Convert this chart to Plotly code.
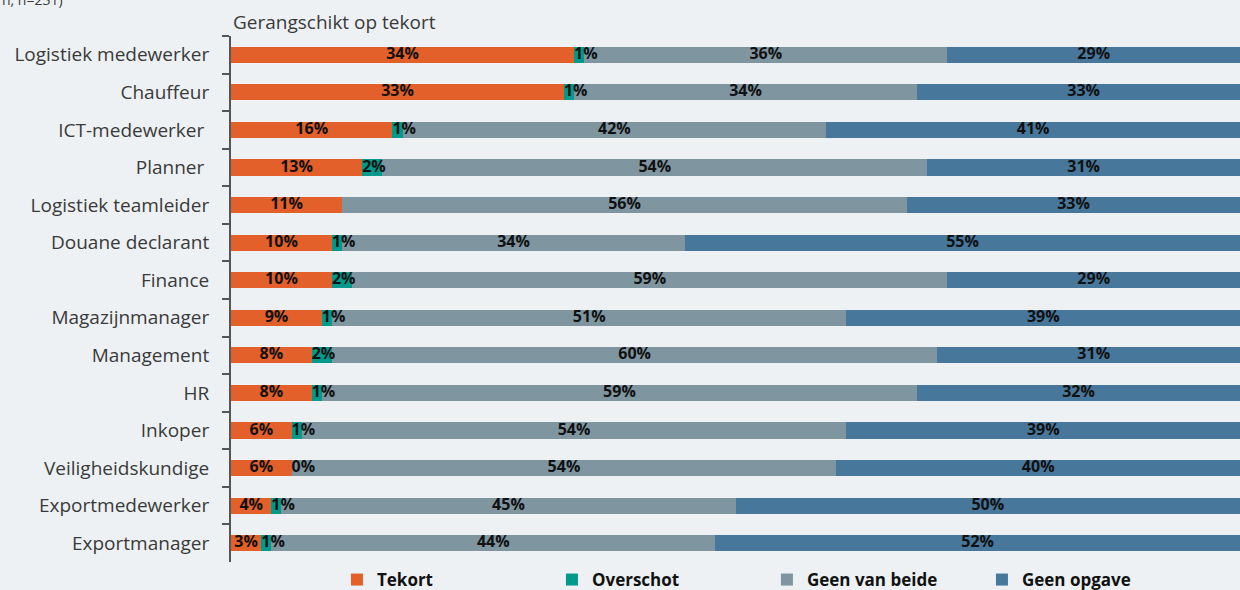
import plotly.graph_objects as go

categories = ["Logistiek medewerker", "Chauffeur", "ICT-medewerker\u00a0", "Planner\u00a0",
              "Logistiek teamleider", "Douane declarant", "Finance", "Magazijnmanager",
              "Management", "HR", "Inkoper", "Veiligheidskundige", "Exportmedewerker",
              "Exportmanager"]
tekort = [34, 33, 16, 13, 11, 10, 10, 9, 8, 8, 6, 6, 4, 3]
overschot = [1, 1, 1, 2, None, 1, 2, 1, 2, 1, 1, 0, 1, 1]
geen_van_beide = [36, 34, 42, 54, 56, 34, 59, 51, 60, 59, 54, 54, 45, 44]
geen_opgave = [29, 33, 41, 31, 33, 55, 29, 39, 31, 32, 39, 40, 50, 52]

series_names = ["Tekort", "Overschot", "Geen van beide", "Geen opgave"]
series_values = [tekort, overschot, geen_van_beide, geen_opgave]
series_colors = ["#e4602a", "#009a8c", "#7f96a1", "#48779c"]

FONT = "Open Sans"
label_font = dict(family=FONT, size=16, color="#111111", weight="bold")

fig = go.Figure()
for name, vals, col in zip(series_names, series_values, series_colors):
    fig.add_trace(go.Bar(
        y=categories, x=vals, name=name, orientation="h",
        marker=dict(color=col, line=dict(width=0)),
        hoverinfo="skip",
    ))

# value labels, placed from cumulative data positions
starts = [0.0] * len(categories)
for name, vals in zip(series_names, series_values):
    xs, ys, txt = [], [], []
    for i, v in enumerate(vals):
        if v is None:
            continue
        if name == "Overschot":
            xs.append(starts[i])
        else:
            xs.append(starts[i] + v / 2)
        ys.append(categories[i])
        txt.append(f"{v}%")
    fig.add_trace(go.Scatter(
        x=xs, y=ys, text=txt, mode="text",
        textposition="middle right" if name == "Overschot" else "middle center",
        textfont=label_font, showlegend=False, hoverinfo="skip", cliponaxis=False,
    ))
    starts = [s + (v or 0) for s, v in zip(starts, vals)]

n = len(categories)
fig.update_layout(
    width=1240, height=590,
    margin=dict(l=231, r=0, t=36, b=28, autoexpand=False),
    paper_bgcolor="#edf1f4", plot_bgcolor="#edf1f4",
    barmode="stack", bargap=0.57,
    xaxis=dict(range=[0, 100], visible=False),
    yaxis=dict(categoryorder="array", categoryarray=categories, range=[n - 0.5, -0.5],
               showline=True, linecolor="#555555", linewidth=2,
               ticks="outside", tickson="boundaries", ticklen=7, tickcolor="#555555", tickwidth=2,
               tickfont=dict(family=FONT, size=19, color="#3a3a3a"),
               ticklabelstandoff=16, showgrid=False, zeroline=False),
    legend=dict(orientation="h", x=0.105, y=0.0, xanchor="left", yanchor="top",
                font=dict(family=FONT, size=17, color="#111111", weight="bold"),
                entrywidth=170, entrywidthmode="pixels", bgcolor="rgba(0,0,0,0)",
                traceorder="normal"),
    showlegend=True,
    annotations=[
        dict(text="Gerangschikt op tekort", xref="paper", yref="paper", x=0, y=1.0266,
             xanchor="left", yanchor="middle", showarrow=False,
             font=dict(family=FONT, size=19, color="#3a3a3a")),
        dict(text="n, n=231)", xref="paper", yref="paper", x=-0.229, y=1.0703,
             xanchor="left", yanchor="middle", showarrow=False,
             font=dict(family=FONT, size=14, color="#3a3a3a")),
    ],
)

fig.write_html("out.html", config={"displayModeBar": False},
               post_script="document.body.style.margin='0';")
